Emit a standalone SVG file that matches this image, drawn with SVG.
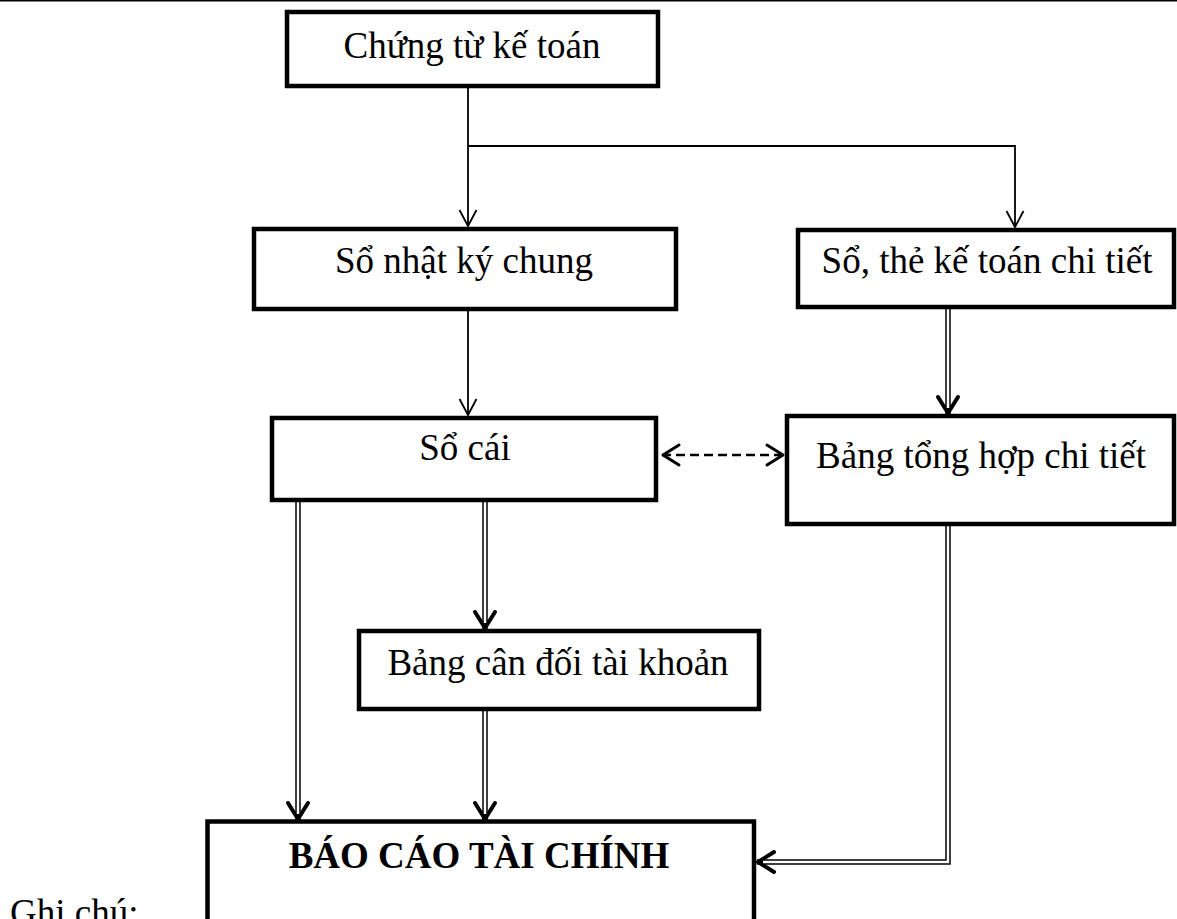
<svg xmlns="http://www.w3.org/2000/svg" width="1177" height="919" viewBox="0 0 1177 919">
  <style>
    .box { fill: #ffffff; stroke: #000000; stroke-width: 4.5; }
    .lbl { font-family: "Liberation Serif", "Times New Roman", serif; font-size: 37px; fill: #000000; text-anchor: middle; }
    .bold { font-weight: bold; }
    .thin { fill: none; stroke: #000000; stroke-width: 1.8; }
    .dblo { fill: none; stroke: #000000; stroke-width: 5.5; stroke-linejoin: miter; }
    .dbli { fill: none; stroke: #ffffff; stroke-width: 2.5; stroke-linejoin: miter; }
    .dash { fill: none; stroke: #000000; stroke-width: 2.5; stroke-dasharray: 9 5; }
  </style>
  <defs>
    <marker id="mThin" viewBox="-20 -12 22 24" markerWidth="22" markerHeight="24" refX="0" refY="0" orient="auto" markerUnits="userSpaceOnUse">
      <path d="M-16,-8.5 L0,0 L-16,8.5" fill="none" stroke="#000" stroke-width="1.8"/>
    </marker>
    <marker id="mBold" viewBox="-22 -14 26 28" markerWidth="26" markerHeight="28" refX="0" refY="0" orient="auto" markerUnits="userSpaceOnUse">
      <path d="M-17,-10 L-1,0 L-17,10" fill="none" stroke="#000" stroke-width="4" stroke-linecap="round" stroke-linejoin="round"/>
    </marker>
    <marker id="mDash" viewBox="-22 -14 26 28" markerWidth="26" markerHeight="28" refX="0" refY="0" orient="auto-start-reverse" markerUnits="userSpaceOnUse">
      <path d="M-17,-10 L-1,0 L-17,10" fill="none" stroke="#000" stroke-width="3" stroke-dasharray="none" stroke-linecap="round" stroke-linejoin="round"/>
    </marker>
  </defs>

  <rect x="0" y="0" width="1177" height="919" fill="#ffffff"/>
  <line x1="0" y1="0.8" x2="1177" y2="0.8" stroke="#000" stroke-width="1.6"/>

  <g id="connectors">
    <path class="thin" d="M468,88 L468,226" marker-end="url(#mThin)"/>
    <path class="thin" d="M468,146 L1015,146 L1015,227" marker-end="url(#mThin)"/>
    <path class="thin" d="M468,311 L468,415" marker-end="url(#mThin)"/>

    <path class="dash" d="M662,455 L784,455" marker-start="url(#mDash)" marker-end="url(#mDash)"/>

    <path class="dblo" d="M948,309 L948,414" marker-end="url(#mBold)"/>
    <path class="dbli" d="M948,309 L948,408"/>

    <path class="dblo" d="M485,502 L485,629" marker-end="url(#mBold)"/>
    <path class="dbli" d="M485,502 L485,623"/>

    <path class="dblo" d="M298,502 L298,820" marker-end="url(#mBold)"/>
    <path class="dbli" d="M298,502 L298,814"/>

    <path class="dblo" d="M485,711 L485,820" marker-end="url(#mBold)"/>
    <path class="dbli" d="M485,711 L485,814"/>

    <path class="dblo" d="M948,526 L948,862 L757,862" marker-end="url(#mBold)"/>
    <path class="dbli" d="M948,526 L948,862 L763,862"/>
  </g>

  <g id="node-chung-tu">
    <rect class="box" x="287" y="12" width="371" height="74"/>
    <text class="lbl" x="472" y="58">Chứng từ kế toán</text>
  </g>
  <g id="node-nhat-ky-chung">
    <rect class="box" x="254" y="229" width="422" height="80"/>
    <text class="lbl" x="464" y="273">Sổ nhật ký chung</text>
  </g>
  <g id="node-so-the-chi-tiet">
    <rect class="box" x="798" y="230" width="376" height="77"/>
    <text class="lbl" x="987" y="273">Sổ, thẻ kế toán chi tiết</text>
  </g>
  <g id="node-so-cai">
    <rect class="box" x="272" y="418" width="384" height="82"/>
    <text class="lbl" x="465" y="460">Sổ cái</text>
  </g>
  <g id="node-bang-tong-hop">
    <rect class="box" x="787" y="416" width="387" height="108"/>
    <text class="lbl" x="981" y="468">Bảng tổng hợp chi tiết</text>
  </g>
  <g id="node-bang-can-doi">
    <rect class="box" x="359" y="631" width="400" height="78"/>
    <text class="lbl" x="558" y="675">Bảng cân đối tài khoản</text>
  </g>
  <g id="node-bao-cao">
    <rect class="box" x="207.5" y="821.5" width="546.5" height="130"/>
    <text class="lbl bold" x="479" y="868">BÁO CÁO TÀI CHÍNH</text>
  </g>

  <text class="lbl" x="10" y="925" style="text-anchor:start">Ghi chú:</text>
</svg>
